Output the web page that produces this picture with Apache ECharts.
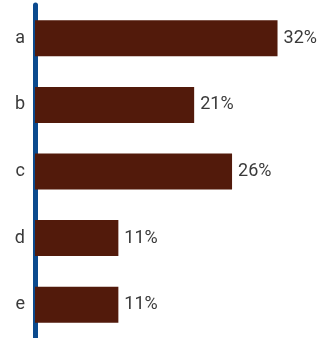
<!DOCTYPE html>
<html><head><meta charset="utf-8">
<script src="https://cdn.jsdelivr.net/npm/echarts@6/dist/echarts.min.js"></script>
<style>html,body{margin:0;padding:0;background:#fff}#c{width:324px;height:338px}</style>
</head><body><div id="c"></div>
<script>
const categories = ['a','b','c','d','e'];
const values = [32, 21, 26, 11, 11];

const chart = echarts.init(document.getElementById('c'), null, {renderer:'canvas'});
chart.setOption({
  animation:false,
  grid:{left:35,right:1,top:5,bottom:0,containLabel:false},
  xAxis:{type:'value',min:0,max:38,show:false},
  yAxis:{type:'category',data:categories,inverse:true,
    axisLine:{show:true,lineStyle:{color:'#0B4A8E',width:5}},
    axisTick:{show:false},
    axisLabel:{color:'#3a3a3a',fontSize:18,fontFamily:'Roboto',margin:10}},
  series:[{type:'bar',data:values,barWidth:36,
    itemStyle:{color:'#521A0B'},
    label:{show:true,position:'right',distance:6,formatter:'{c}%',color:'#3a3a3a',fontSize:18,fontFamily:'Roboto'}}]
});
</script></body></html>
